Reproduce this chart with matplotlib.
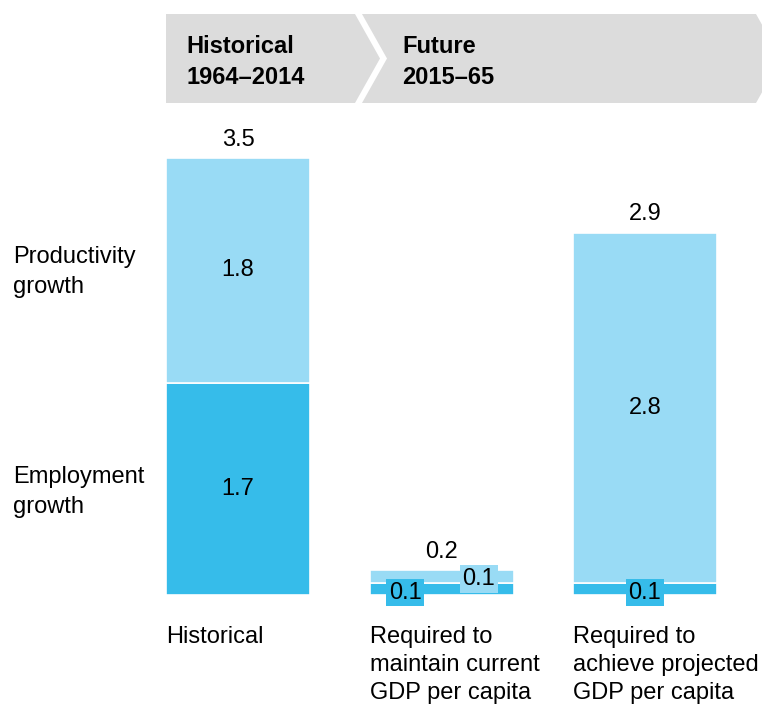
import matplotlib.pyplot as plt
from matplotlib.patches import Polygon

plt.rcParams['font.family'] = ['Liberation Sans', 'DejaVu Sans']

# growth components, % per year
categories = ["Historical", "Required to\nmaintain current\nGDP per capita",
              "Required to\nachieve projected\nGDP per capita"]
employment = [1.7, 0.1, 0.1]
productivity = [1.8, 0.1, 2.8]
totals = [3.5, 0.2, 2.9]

light = "#99dbf5"
dark = "#36bcea"
grey = "#dcdcdc"

W, H = 762, 704
fig = plt.figure(figsize=(W / 100, H / 100), dpi=100)

# bar axes: baseline at y=595px, 3.5 at y=158px
base_px, top_px = 595, 158
ax = fig.add_axes([0, (H - base_px) / H, 1, (base_px - top_px) / H])
ax.set_ylim(0, 3.5)
ax.set_xlim(-238 / 204, (W - 238) / 204)
ax.axis("off")

x = [0, 1.0, 1.995]
bw = 0.706
ax.bar(x, employment, width=bw, color=dark, edgecolor="white", linewidth=1.2, clip_on=False)
ax.bar(x, productivity, bottom=employment, width=bw, color=light, edgecolor="white",
       linewidth=1.2, clip_on=False)

fs = 17
# totals above bars
for xi, t in zip(x, totals):
    ax.text(xi, t + 0.06, f"{t:.1f}", ha="center", va="bottom", fontsize=fs, clip_on=False)

# segment labels
ax.text(x[0], employment[0] / 2, f"{employment[0]:.1f}", ha="center", va="center", fontsize=fs)
ax.text(x[0], employment[0] + productivity[0] / 2, f"{productivity[0]:.1f}",
        ha="center", va="center", fontsize=fs)
ax.text(x[2], employment[2] + productivity[2] / 2, f"{productivity[2]:.1f}",
        ha="center", va="center", fontsize=fs)

# small segments: labels in boxes
box = dict(boxstyle="square,pad=0.12", edgecolor="none")
ax.text(x[1] - 0.18, employment[1] / 2 - 0.03, f"{employment[1]:.1f}", ha="center", va="center",
        fontsize=fs, bbox=dict(box, facecolor=dark))
ax.text(x[1] + 0.18, employment[1] + 0.03, f"{productivity[1]:.1f}", ha="center", va="center",
        fontsize=fs, bbox=dict(box, facecolor=light))
ax.text(x[2], employment[2] / 2 - 0.03, f"{employment[2]:.1f}", ha="center", va="center",
        fontsize=fs, bbox=dict(box, facecolor=dark))

# category labels under bars
for xi, c in zip(x, categories):
    ax.text(xi - bw / 2, -0.25, c, ha="left", va="top", fontsize=fs, linespacing=1.34,
            clip_on=False)

# overlay in pixel coordinates for header and side labels
ov = fig.add_axes([0, 0, 1, 1], zorder=-1)
ov.set_xlim(0, W)
ov.set_ylim(H, 0)
ov.axis("off")

ov.add_patch(Polygon([(166, 14), (355, 14), (380, 58.5), (355, 103), (166, 103)],
                     closed=True, facecolor=grey, edgecolor="none"))
ov.add_patch(Polygon([(362, 14), (756, 14), (781, 58.5), (756, 103), (362, 103), (387, 58.5)],
                     closed=True, facecolor=grey, edgecolor="none"))
ov.text(186, 62, "Historical\n1964–2014", fontsize=fs, fontweight="bold",
        ha="left", va="center", linespacing=1.39)
ov.text(402, 62, "Future\n2015–65", fontsize=fs, fontweight="bold",
        ha="left", va="center", linespacing=1.39)

ov.text(13, 272, "Productivity\ngrowth", fontsize=fs, ha="left", va="center", linespacing=1.47)
ov.text(13, 492, "Employment\ngrowth", fontsize=fs, ha="left", va="center", linespacing=1.47)

fig.savefig("out.png", dpi=100)
